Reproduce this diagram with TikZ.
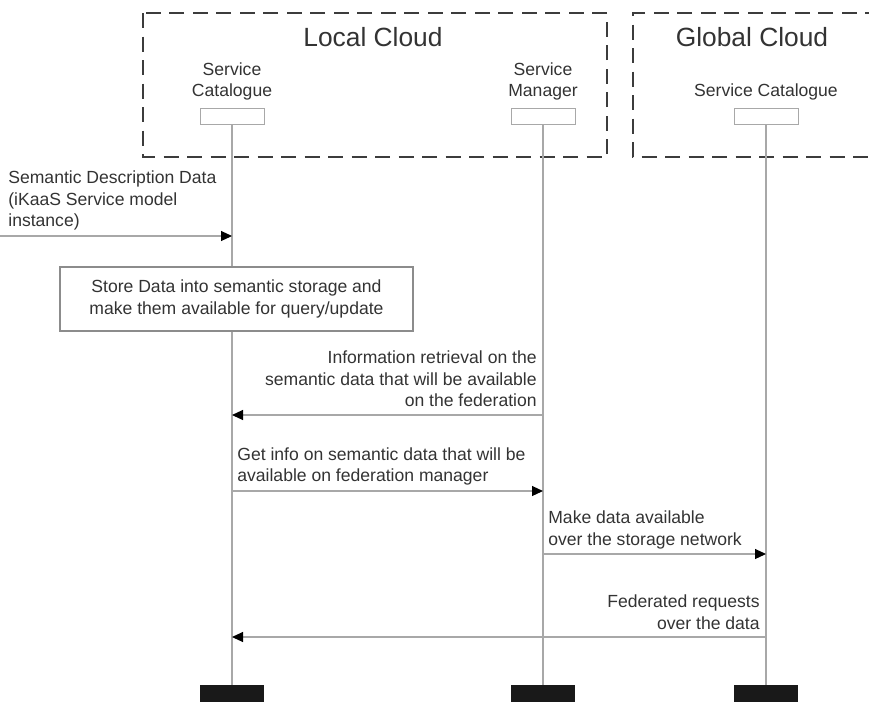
\documentclass[tikz,border=0pt]{standalone}
\usepackage{fontspec}
\setmainfont{Liberation Sans}
\usepackage{xcolor}
\usepackage{tikz}
\usetikzlibrary{arrows.meta}
\usetikzlibrary{shapes}

\definecolor{linegray}{HTML}{A8A8A8}
\definecolor{boxgray}{HTML}{8C8C8C}
\definecolor{textgray}{HTML}{333333}
\definecolor{dashgray}{HTML}{3C3C3C}

\tikzset{
  headbox/.style={draw=linegray,fill=white,minimum width=1.28cm,minimum height=0.32cm,inner sep=0pt},
  footbox/.style={fill=black!90,minimum width=1.28cm,minimum height=0.6cm,inner sep=0pt},
  lifeline/.style={draw=linegray,line width=0.6pt},
  msg/.style={draw=linegray,line width=0.6pt,-{Triangle[length=2.2mm,width=2mm,color=black]}},
  cloudbox/.style={draw=dashgray,line width=1.2pt,dash pattern=on 0.3cm off 0.17cm},
  msgtext/.style={text=textgray,inner sep=0pt},
  cloudname/.style={text=textgray,font=\fontsize{15}{18}\selectfont}
}

\begin{document}
\begin{tikzpicture}[font=\fontsize{10}{12.2}\selectfont]
\useasboundingbox (0,0) rectangle (17.38,-14.02);

% clouds
\draw[cloudbox] (2.86,-0.26) rectangle (12.14,-3.14);
\draw[cloudbox] (17.6,-0.26) -- (12.66,-0.26) -- (12.66,-3.14) -- (17.6,-3.14);
\node[cloudname] (localname) at (7.46,-0.74) {Local Cloud};
\node[cloudname] (globalname) at (15.04,-0.74) {Global Cloud};

% heads and feet
\node[headbox] (lcat) at (4.64,-2.32) {};
\node[headbox] (lman) at (10.86,-2.32) {};
\node[headbox] (gcat) at (15.32,-2.32) {};
\node[msgtext,align=center] (lcatname) at (4.64,-1.63) {Service\\Catalogue};
\node[msgtext,align=center] (lmanname) at (10.86,-1.63) {Service\\Manager};
\node[msgtext] (gcatname) at (15.32,-1.84) {Service Catalogue};

\node[footbox] (lcatend) at (4.64,-14.0) {};
\node[footbox] (lmanend) at (10.86,-14.0) {};
\node[footbox] (gcatend) at (15.32,-14.0) {};

\draw[lifeline] (lcat) -- (lcatend);
\draw[lifeline] (lman) -- (lmanend);
\draw[lifeline] (gcat) -- (gcatend);

% incoming data
\coordinate (in) at (0,-4.72);
\draw[msg] (in) -- (in -| lcat);
\node[msgtext,anchor=west,align=left] (indesc) at (0.16,-4.01)
    {Semantic Description Data\\(iKaaS Service model\\instance)};

\node[draw=boxgray,fill=white,line width=0.6pt,minimum width=7.06cm,minimum height=1.28cm,
    align=center,text=textgray] (store) at (4.73,-5.98)
    {Store Data into semantic storage and\\make them available for query/update};

% messages
\coordinate (r1) at (0,-8.3);
\draw[msg] (r1 -| lman) -- (r1 -| lcat);
\node[msgtext,anchor=east,align=right] (retr) at (10.74,-7.58)
    {Information retrieval on the\\semantic data that will be available\\on the federation};

\coordinate (r2) at (0,-9.82);
\draw[msg] (r2 -| lcat) -- (r2 -| lman);
\node[msgtext,anchor=west,align=left] (getinfo) at (4.74,-9.33)
    {Get info on semantic data that will be\\available on federation manager};

\coordinate (r3) at (0,-11.08);
\draw[msg] (r3 -| lman) -- (r3 -| gcat);
\node[msgtext,anchor=west,align=left] (makeav) at (10.96,-10.6)
    {Make data available\\over the storage network};

\coordinate (r4) at (0,-12.74);
\draw[msg] (r4 -| gcat) -- (r4 -| lcat);
\node[msgtext,anchor=east,align=right] (fedreq) at (15.2,-12.24)
    {Federated requests\\over the data};

\end{tikzpicture}
\end{document}
